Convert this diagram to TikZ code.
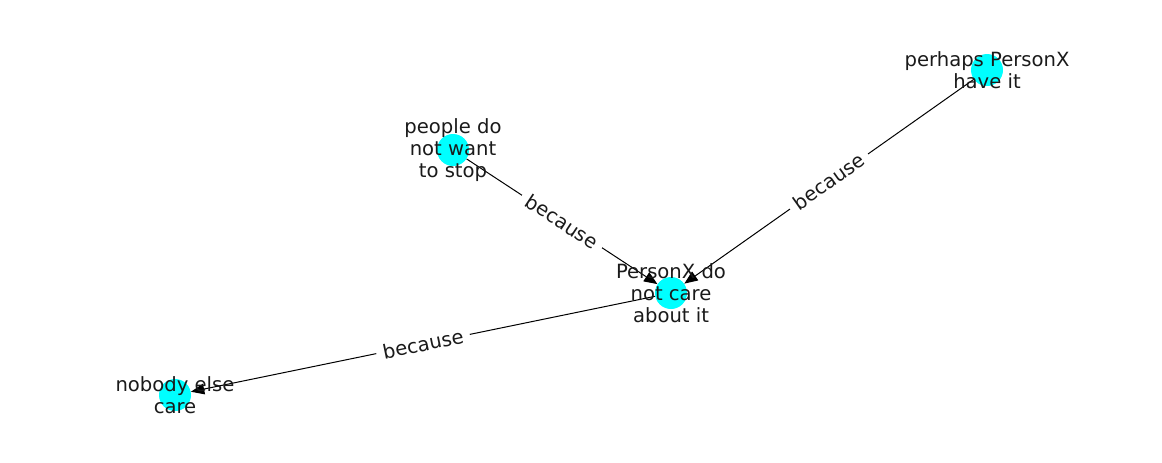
\documentclass[tikz,border=0pt]{standalone}
\usepackage{fontspec}
\setmainfont{DejaVu Sans}
\usepackage{xcolor}
\usetikzlibrary{arrows.meta}
\definecolor{nodecyan}{RGB}{0,255,255}
\definecolor{labeltext}{RGB}{26,26,26}
\tikzset{
  vertex/.style={circle, fill=nodecyan, minimum size=24pt, inner sep=0pt},
  caption/.style={align=center, text=labeltext, font=\fontsize{14.7}{16.5}\selectfont},
  link/.style={draw=black, line width=0.75pt, -{Triangle[length=10pt,width=8pt]}},
  reason/.style={fill=white, text=labeltext, sloped, inner sep=5pt, font=\fontsize{14.7}{16.5}\selectfont}
}

\begin{document}
\begin{tikzpicture}[x=0.75pt, y=-0.75pt]
    \useasboundingbox (0,0) rectangle (1162,462);
    % Nodes
    \node[vertex] (stop) at (453,150) {};
    \node[vertex] (have) at (987,70) {};
    \node[vertex] (care) at (671,293) {};
    \node[vertex] (nobody) at (175,395) {};
    % Edges
    \draw[link] (stop) -- node[reason] {because} (care);
    \draw[link] (have) -- node[reason] {because} (care);
    \draw[link] (care) -- node[reason] {because} (nobody);
    % Texts
    \node[caption] at (stop) {people do\\not want\\to stop};
    \node[caption] at (have) {perhaps PersonX\\have it};
    \node[caption] at (care) {PersonX do\\not care\\about it};
    \node[caption] at (nobody) {nobody else\\care};
\end{tikzpicture}
\end{document}
